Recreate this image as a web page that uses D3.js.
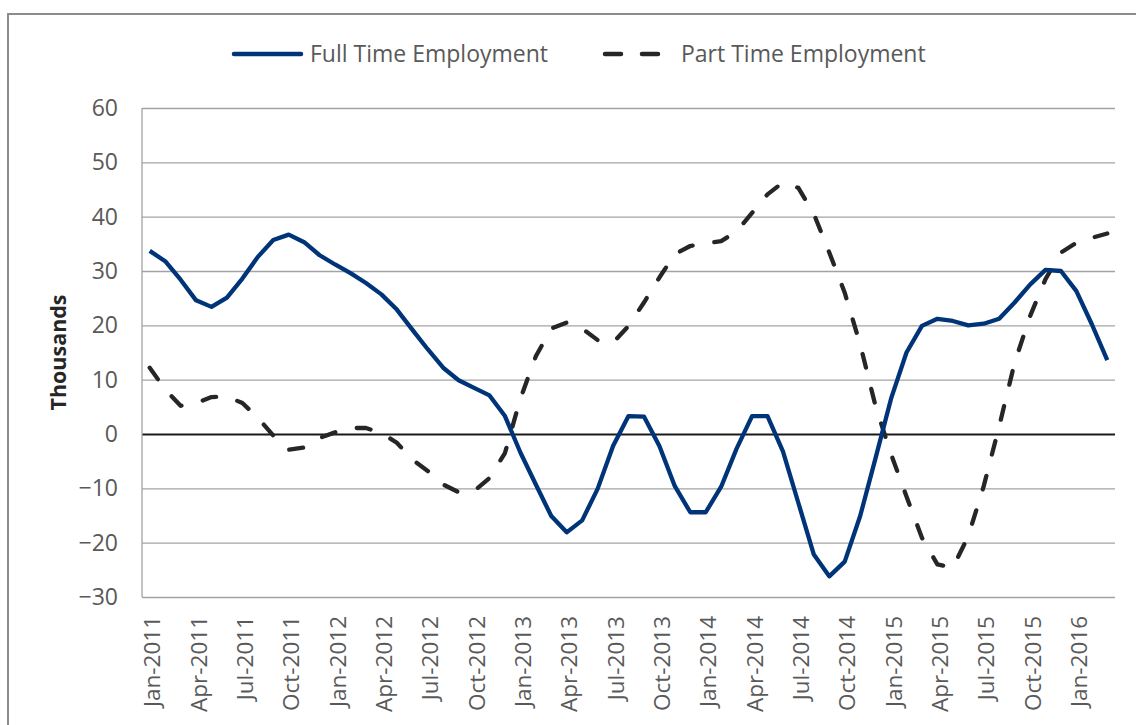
<!DOCTYPE html>
<html>
<head>
<meta charset="utf-8">
<script src="https://cdn.jsdelivr.net/npm/d3@7"></script>
<style>
  html, body { margin: 0; padding: 0; background: #ffffff; }
  svg { display: block; }
  text { font-family: "Open Sans", "Liberation Sans", sans-serif; }
</style>
</head>
<body>
<svg id="chart" width="1136" height="725"></svg>
<script>
// ---------------- data ----------------
const categories = [
  "Jan-2011","Feb-2011","Mar-2011","Apr-2011","May-2011","Jun-2011","Jul-2011","Aug-2011","Sep-2011","Oct-2011","Nov-2011","Dec-2011",
  "Jan-2012","Feb-2012","Mar-2012","Apr-2012","May-2012","Jun-2012","Jul-2012","Aug-2012","Sep-2012","Oct-2012","Nov-2012","Dec-2012",
  "Jan-2013","Feb-2013","Mar-2013","Apr-2013","May-2013","Jun-2013","Jul-2013","Aug-2013","Sep-2013","Oct-2013","Nov-2013","Dec-2013",
  "Jan-2014","Feb-2014","Mar-2014","Apr-2014","May-2014","Jun-2014","Jul-2014","Aug-2014","Sep-2014","Oct-2014","Nov-2014","Dec-2014",
  "Jan-2015","Feb-2015","Mar-2015","Apr-2015","May-2015","Jun-2015","Jul-2015","Aug-2015","Sep-2015","Oct-2015","Nov-2015","Dec-2015",
  "Jan-2016","Feb-2016","Mar-2016"
];

const fullTime = [
  33.7, 31.8, 28.4, 24.6, 23.4, 25.1, 28.6, 32.6, 35.7, 36.7, 35.3, 32.9,
  31.2, 29.6, 27.8, 25.7, 22.9, 19.2, 15.6, 12.2, 9.9, 8.5, 7.1, 3.3,
  -3.4, -9.3, -15.1, -18.1, -15.9, -10.1, -2.2, 3.3, 3.2, -2.2, -9.6, -14.4,
  -14.4, -9.7, -2.7, 3.3, 3.3, -3.2, -12.7, -22.2, -26.2, -23.5, -15.1, -4.4,
  6.5, 15.0, 19.9, 21.2, 20.8, 20.0, 20.3, 21.2, 24.2, 27.5, 30.2, 30.0,
  26.3, 20.2, 13.6
];

const partTime = [
  12.2, 8.2, 5.2, 5.7, 6.8, 6.9, 5.7, 3.0, -0.3, -2.9, -2.5, -0.7,
  0.3, 1.1, 1.1, 0.2, -1.6, -4.7, -6.8, -9.3, -10.7, -10.5, -8.1, -3.5,
  6.5, 14.3, 19.4, 20.5, 19.4, 17.3, 16.8, 19.9, 24.2, 28.8, 33.1, 34.6,
  35.1, 35.5, 37.3, 40.7, 44.1, 46.3, 45.3, 40.5, 33.4, 26.0, 16.5, 5.1,
  -3.7, -11.5, -19.1, -24.0, -24.6, -18.8, -9.6, 1.4, 13.1, 21.7, 28.5, 33.4,
  35.2, 36.1, 36.9
];

const xTickLabels = [
  "Jan-2011","Apr-2011","Jul-2011","Oct-2011","Jan-2012","Apr-2012","Jul-2012","Oct-2012",
  "Jan-2013","Apr-2013","Jul-2013","Oct-2013","Jan-2014","Apr-2014","Jul-2014","Oct-2014",
  "Jan-2015","Apr-2015","Jul-2015","Oct-2015","Jan-2016"
];
const yTickValues = [-30, -20, -10, 0, 10, 20, 30, 40, 50, 60];

const seriesNames = ["Full Time Employment", "Part Time Employment"];
const yAxisTitle = "Thousands";

// ---------------- layout ----------------
const svg = d3.select("#chart");
const plot = { left: 142, right: 1115, top: 108, bottom: 597 };

const x = d3.scalePoint().domain(categories).range([plot.left, plot.right]).padding(0.5);
const y = d3.scaleLinear().domain([-30, 60]).range([plot.bottom, plot.top]);

// outer frame (cropped chart border)
svg.append("path")
  .attr("d", "M8,725 V14 H1136")
  .attr("fill", "none")
  .attr("stroke", "#8c8c8c")
  .attr("stroke-width", 2);

// gridlines via axis
const grid = svg.append("g")
  .attr("transform", `translate(${plot.left},0)`)
  .call(d3.axisLeft(y).tickValues(yTickValues).tickSize(-(plot.right - plot.left)).tickFormat(""));
grid.select(".domain").remove();
grid.selectAll(".tick line")
  .attr("stroke", d => d === 0 ? "#1a1a1a" : "#a3a3a3")
  .attr("stroke-width", d => d === 0 ? 2.2 : 1.3);

// value axis line
svg.append("line")
  .attr("x1", plot.left).attr("x2", plot.left)
  .attr("y1", y(60)).attr("y2", y(-30))
  .attr("stroke", "#a3a3a3").attr("stroke-width", 1.3);

// y tick labels
const yAx = svg.append("g")
  .attr("transform", `translate(${plot.left},0)`)
  .call(d3.axisLeft(y).tickValues(yTickValues).tickSize(0).tickPadding(24).tickFormat(d3.format("d")));
yAx.select(".domain").remove();
yAx.selectAll("text")
  .attr("font-family", "'Open Sans', sans-serif")
  .attr("font-size", 23)
  .attr("fill", "#595959");

// x tick labels
const xAx = svg.append("g")
  .attr("transform", `translate(0,${plot.bottom})`)
  .call(d3.axisBottom(x).tickValues(xTickLabels).tickSize(0).tickPadding(0));
xAx.select(".domain").remove();
xAx.selectAll("text")
  .attr("font-family", "'Open Sans', sans-serif")
  .attr("font-size", 22.5)
  .attr("fill", "#595959")
  .attr("text-anchor", "end")
  .attr("transform", "rotate(-90)")
  .attr("x", -19)
  .attr("y", 2)
  .attr("dy", "0.36em");

// y axis title
svg.append("text")
  .attr("transform", `translate(66,${(plot.top + plot.bottom) / 2}) rotate(-90)`)
  .attr("text-anchor", "middle")
  .attr("font-family", "'Open Sans', sans-serif")
  .attr("font-weight", "bold")
  .attr("font-size", 21.5)
  .attr("fill", "#262626")
  .text(yAxisTitle);

// lines
const line = d3.line().x((d, i) => x(categories[i])).y(d => y(d));

svg.append("path")
  .datum(partTime)
  .attr("d", line)
  .attr("fill", "none")
  .attr("stroke", "#262626")
  .attr("stroke-width", 4.3)
  .attr("stroke-linecap", "round")
  .attr("stroke-linejoin", "round")
  .attr("stroke-dasharray", "14,22");

svg.append("path")
  .datum(fullTime)
  .attr("d", line)
  .attr("fill", "none")
  .attr("stroke", "#003478")
  .attr("stroke-width", 4.3)
  .attr("stroke-linejoin", "round");

// legend
const legend = svg.append("g");
legend.append("line")
  .attr("x1", 234).attr("x2", 301).attr("y1", 54).attr("y2", 54)
  .attr("stroke", "#003478").attr("stroke-width", 4.5).attr("stroke-linecap", "round");
legend.append("text")
  .attr("x", 310).attr("y", 54).attr("dy", "0.36em")
  .attr("font-size", 23).attr("fill", "#595959")
  .text(seriesNames[0]);

legend.append("line")
  .attr("x1", 605).attr("x2", 676).attr("y1", 54).attr("y2", 54)
  .attr("stroke", "#262626").attr("stroke-width", 4.5).attr("stroke-linecap", "round")
  .attr("stroke-dasharray", "16,21");
legend.append("text")
  .attr("x", 681).attr("y", 54).attr("dy", "0.36em")
  .attr("font-size", 23).attr("fill", "#595959")
  .text(seriesNames[1]);
</script>
</body>
</html>
